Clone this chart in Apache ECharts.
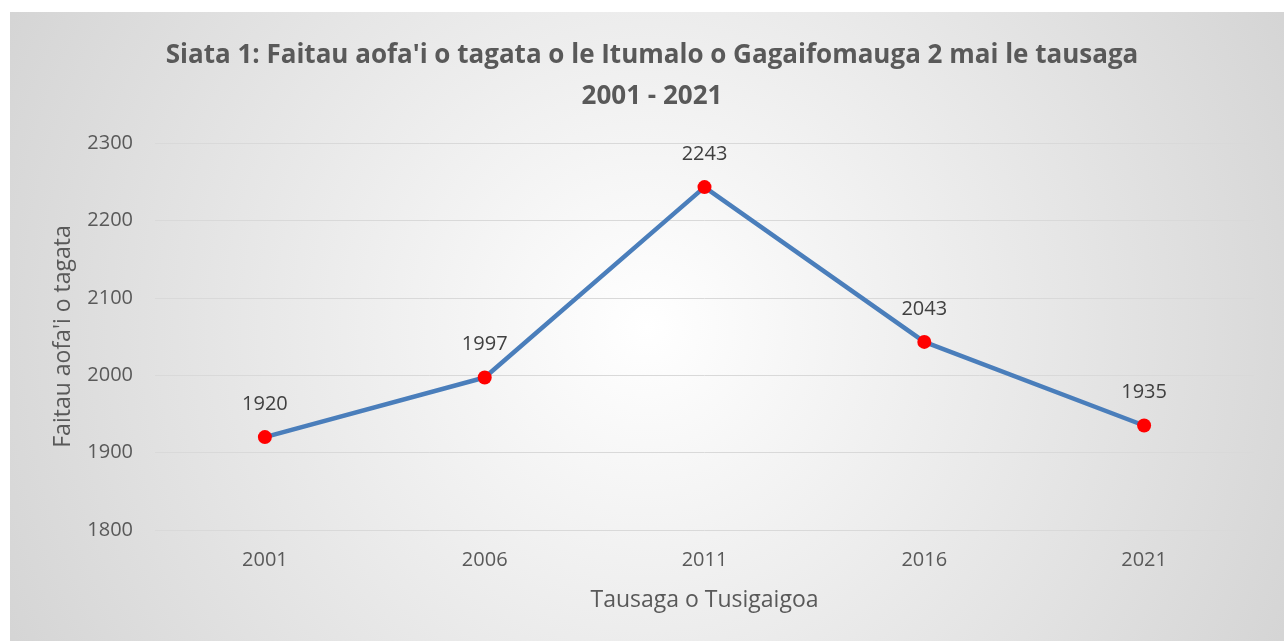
<!DOCTYPE html>
<html>
<head>
<meta charset="utf-8">
<style>
  html, body { margin: 0; padding: 0; background: #fff; }
  #chart { width: 1284px; height: 641px; }
</style>
<script src="https://cdn.jsdelivr.net/npm/echarts@6/dist/echarts.min.js"></script>
</head>
<body>
<div id="chart"></div>
<script>
  var years = ['2001', '2006', '2011', '2016', '2021'];
  var population = [1920, 1997, 2243, 2043, 1935];
  var titleText = "Siata 1: Faitau aofa'i o tagata o le Itumalo o Gagaifomauga 2 mai le tausaga\n2001 - 2021";
  var yName = "Faitau aofa'i o tagata";
  var xName = 'Tausaga o Tusigaigoa';

  var myChart = echarts.init(document.getElementById('chart'));
  var font = '"Open Sans", "Noto Sans", sans-serif';

  myChart.setOption({
    backgroundColor: '#fff',
    animation: false,
    graphic: [{
      type: 'rect',
      left: 10,
      top: 12,
      shape: { width: 1274, height: 629 },
      z: -10,
      style: {
        fill: new echarts.graphic.RadialGradient(0.5, 0.5, 1.15, [
          { offset: 0, color: '#ffffff' },
          { offset: 1, color: '#d4d4d4' }
        ])
      }
    }],
    title: {
      text: titleText,
      left: 647,
      top: 30,
      textAlign: 'center',
      textStyle: {
        fontFamily: font,
        fontSize: 26,
        fontWeight: 'bold',
        color: '#595959',
        lineHeight: 41
      }
    },
    grid: {
      left: 155,
      right: 30,
      top: 143,
      bottom: 111,
      containLabel: false
    },
    xAxis: {
      type: 'category',
      data: years,
      boundaryGap: true,
      axisLine: { show: false },
      axisTick: { show: false },
      axisLabel: {
        fontFamily: font,
        fontSize: 20,
        color: '#595959',
        margin: 20
      },
      name: xName,
      nameLocation: 'middle',
      nameGap: 59,
      nameTextStyle: {
        fontFamily: font,
        fontSize: 23,
        color: '#595959'
      }
    },
    yAxis: {
      type: 'value',
      min: 1800,
      max: 2300,
      interval: 100,
      axisLine: { show: false },
      axisTick: { show: false },
      splitLine: { lineStyle: { color: '#d9d9d9', width: 1 } },
      axisLabel: {
        fontFamily: font,
        fontSize: 20,
        color: '#595959',
        margin: 22,
        formatter: function (v) { return String(v); }
      },
      name: yName,
      nameLocation: 'middle',
      nameGap: 80,
      nameTextStyle: {
        fontFamily: font,
        fontSize: 23,
        color: '#595959'
      }
    },
    series: [{
      type: 'line',
      data: population,
      symbol: 'circle',
      symbolSize: 14,
      itemStyle: { color: '#ff0000' },
      lineStyle: { color: '#4a7ebb', width: 4.5 },
      label: {
        show: true,
        position: 'top',
        distance: 16,
        fontFamily: font,
        fontSize: 20,
        color: '#404040'
      }
    }]
  });
</script>
</body>
</html>
